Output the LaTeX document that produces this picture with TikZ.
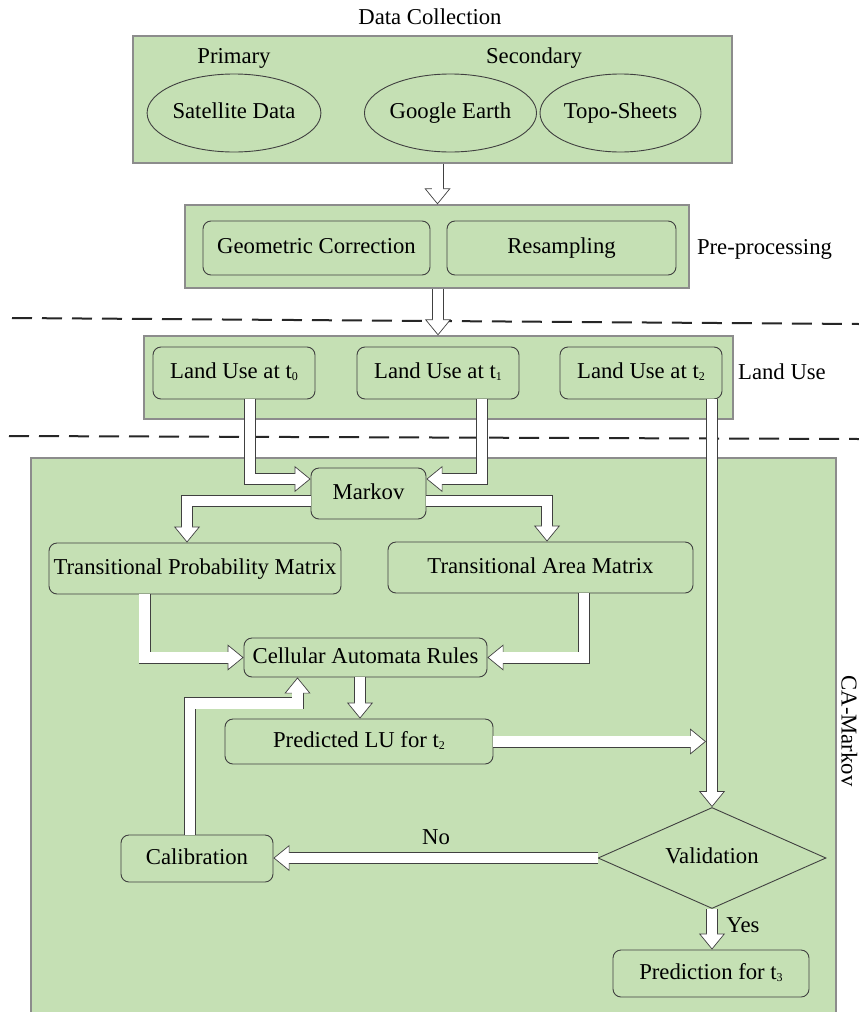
\documentclass[tikz,border=0pt]{standalone}
\usepackage{fontspec}
\setmainfont{Liberation Serif}
\usetikzlibrary{shapes.geometric,arrows.meta,calc}

\definecolor{panelgreen}{HTML}{C5E0B4}
\definecolor{panelline}{HTML}{8C8C8C}
\definecolor{boxline}{HTML}{404040}

% small lowered index digit (t0, t1, ...)
\newcommand{\lowidx}[1]{\raisebox{-2pt}{\fontsize{12}{12}\selectfont #1}}

% hollow block arrow: dark outline, white body, outlined triangular head
\newcommand{\hollowarrow}[1]{%
  \draw[arrowouter] #1;
  \draw[arrowtip] #1;
  \draw[arrowinner] #1;}

\begin{document}
\begin{tikzpicture}[x=1pt,y=-1pt,
  every node/.style={font=\fontsize{22.7}{27}\selectfont, text height=16pt, text depth=4.5pt, inner sep=0pt},
  panel/.style={draw=panelline, line width=1.3pt, fill=panelgreen},
  stage/.style={draw=boxline, line width=0.9pt, fill=panelgreen, rounded corners=8pt},
  source/.style={ellipse, draw=boxline, line width=0.9pt, minimum width=162pt, minimum height=78pt},
  decision/.style={diamond, draw=boxline, line width=0.9pt, fill=panelgreen, aspect=2.25, minimum width=228pt, minimum height=101pt},
  separator/.style={draw=black!85, line width=2pt, dash pattern=on 20pt off 10pt},
  arrowouter/.style={draw=boxline, line width=12pt, shorten >=15pt, line join=miter},
  arrowtip/.style={draw=boxline, line width=0.7pt, -{Triangle[length=16pt,width=26pt,fill=white]}},
  arrowinner/.style={draw=white, line width=10.4pt, shorten >=14.4pt, line join=miter},
]
\clip (0,0) rectangle (859,1012);
\fill[white] (0,0) rectangle (859,1012);

% ---- stage panels ----
\node[panel, minimum width=599pt, minimum height=127pt] (dc) at (432.5,99.5) {};
\node[panel, minimum width=504pt, minimum height=83pt] (pp) at (437,246.5) {};
\node[panel, minimum width=589pt, minimum height=83pt] (lu) at (438.5,377.5) {};
\node[panel, minimum width=805pt, minimum height=570pt] (ca) at (433.5,743) {};

% ---- stage separators ----
\draw[separator] (12,318) -- (859,324);
\draw[separator] (9,436) -- (859,439);

% ---- stage titles ----
\node (tdc) at (430,19) {Data Collection};
\node (tpp) at (764.5,249) {Pre-processing};
\node (tlu) at (782,374) {Land Use};
\node[rotate=-90, text height=15pt, text depth=0pt] (tca) at (849,731) {CA-Markov};

% ---- data collection ----
\node (prim) at (234,58) {Primary};
\node (sec) at (534,58) {Secondary};
\node[source, minimum width=164pt] (sat) at (234,113) {Satellite Data};
\node[source, minimum width=161pt] (ge) at (450.5,113) {Google Earth};
\node[source, minimum width=161pt] (topo) at (620.5,113) {Topo-Sheets};

% ---- pre-processing ----
\node[stage, minimum width=227pt, minimum height=54pt] (geo) at (316.5,248) {Geometric Correction};
\node[stage, minimum width=229pt, minimum height=54pt] (res) at (561.5,248) {Resampling};

% ---- land use maps ----
\node[stage, minimum width=162pt, minimum height=52pt] (lu0) at (234,373) {Land Use at t\lowidx{0}};
\node[stage, minimum width=162pt, minimum height=52pt] (lu1) at (438,373) {Land Use at t\lowidx{1}};
\node[stage, minimum width=162pt, minimum height=52pt] (lu2) at (641,373) {Land Use at t\lowidx{2}};

% ---- CA-Markov model ----
\node[stage, minimum width=115pt, minimum height=51pt] (markov) at (368.5,493.5) {Markov};
\node[stage, minimum width=292pt, minimum height=51pt] (tpm) at (195,568.5) {Transitional Probability Matrix};
\node[stage, minimum width=305pt, minimum height=51pt] (tam) at (540.5,567.5) {Transitional Area Matrix};
\node[stage, minimum width=243pt, minimum height=39pt] (car) at (365.5,657.5) {Cellular Automata Rules};
\node[stage, minimum width=268pt, minimum height=45pt] (pred) at (359,741.5) {Predicted LU for t\lowidx{2}};
\node[stage, minimum width=152pt, minimum height=47pt] (calib) at (197,858.5) {Calibration};
\node[decision] (valid) at (712,858) {Validation};
\node[stage, minimum width=196pt, minimum height=47pt] (pfor) at (711,973.5) {Prediction for t\lowidx{3}};

\node (no) at (436,839) {No};
\node (yes) at (743,927) {Yes};

\coordinate (joint) at ([xshift=-6pt]valid.north);

% ---- connectors ----
\hollowarrow{([xshift=5pt]dc.south) -- ([xshift=5pt]dc.south |- pp.north)}
\hollowarrow{([xshift=1pt]pp.south) -- ([xshift=1pt]pp.south |- lu.north)}
\hollowarrow{([xshift=16pt]lu0.south) |- ([yshift=14.5pt]markov.west)}
\hollowarrow{([xshift=44pt]lu1.south) |- ([yshift=14.5pt]markov.east)}
\hollowarrow{([yshift=-7.5pt]markov.west) -| ([xshift=-8pt]tpm.north)}
\hollowarrow{([yshift=-7.5pt]markov.east) -| ([xshift=6.5pt]tam.north)}
\hollowarrow{([xshift=-50.5pt]tpm.south) |- (car.west)}
\hollowarrow{([xshift=43.5pt]tam.south) |- (car.east)}
\hollowarrow{([xshift=-5.5pt]car.south) -- ([xshift=-5.5pt]car.south |- pred.north)}
\hollowarrow{([xshift=-7pt]calib.north) |- ([xshift=-68pt,yshift=-26pt]car.south) -- ([xshift=-68pt]car.south)}
\hollowarrow{(pred.east) -- (pred.east -| joint)}
\hollowarrow{(valid.north |- lu2.south) -- (valid.north)}
\hollowarrow{(valid.west) -- (valid.west -| calib.east)}
\hollowarrow{(valid.south) -- (valid.south |- pfor.north)}
\end{tikzpicture}
\end{document}
